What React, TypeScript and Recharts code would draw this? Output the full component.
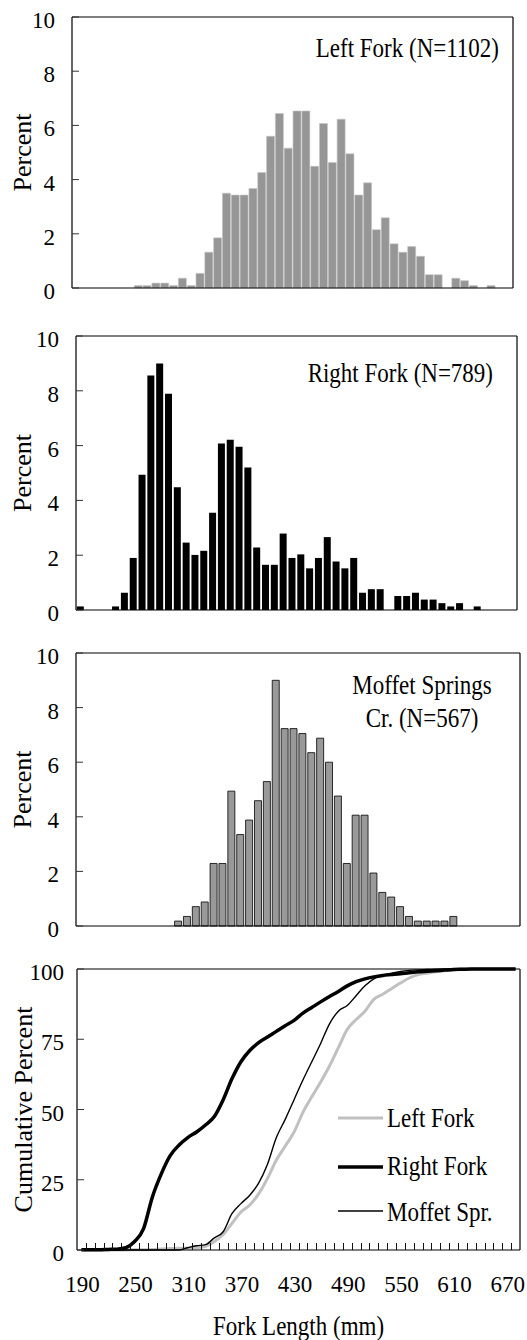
import React from 'react';
import { BarChart, Bar, XAxis, YAxis, ReferenceLine, LineChart, Line, Label } from 'recharts';

const FONT = '"Liberation Serif", "Times New Roman", serif';

// Fork length categories (mm), 10 mm bins
const forkLengths = [
  190, 200, 210, 220, 230, 240, 250, 260, 270, 280,
  290, 300, 310, 320, 330, 340, 350, 360, 370, 380,
  390, 400, 410, 420, 430, 440, 450, 460, 470, 480,
  490, 500, 510, 520, 530, 540, 550, 560, 570, 580,
  590, 600, 610, 620, 630, 640, 650, 660, 670, 680,
];

// Histogram percents
const leftForkPct = [
  0, 0, 0, 0, 0, 0, 0, 0.09, 0.09, 0.18,
  0.18, 0.09, 0.36, 0.09, 0.54, 1.32, 1.85, 3.5, 3.43, 3.43,
  3.67, 4.26, 5.6, 6.44, 5.16, 6.53, 6.53, 4.49, 6.07, 4.63,
  6.23, 4.95, 3.43, 3.88, 2.15, 2.59, 1.63, 1.32, 1.53, 1.17,
  0.49, 0.49, 0, 0.36, 0.27, 0.09, 0, 0.09, 0, 0,
];
const rightForkPct = [
  0.13, 0, 0, 0, 0.13, 0.63, 1.9, 4.94, 8.56, 9.0,
  7.89, 4.48, 2.46, 2.01, 2.16, 3.55, 6.08, 6.21, 5.96, 5.2,
  2.28, 1.65, 1.65, 2.79, 1.9, 2.03, 1.52, 1.9, 2.66, 1.77,
  1.52, 1.9, 0.63, 0.76, 0.76, 0, 0.51, 0.51, 0.63, 0.38,
  0.38, 0.25, 0.13, 0.25, 0, 0.13, 0, 0, 0, 0,
];
const moffetPct = [
  0, 0, 0, 0, 0, 0, 0, 0, 0, 0,
  0, 0.18, 0.35, 0.71, 0.88, 2.29, 2.29, 4.94, 3.35, 3.88,
  4.59, 5.29, 9.0, 7.23, 7.23, 7.05, 6.35, 6.88, 6.0, 4.76,
  2.29, 4.06, 4.06, 1.94, 1.23, 1.06, 0.71, 0.35, 0.18, 0.18,
  0.18, 0.18, 0.35, 0, 0, 0, 0, 0, 0, 0,
];

// Cumulative percents
const cumLeft = [
  0, 0, 0, 0, 0, 0, 0.1, 0.1, 0.2, 0.4,
  0.5, 0.6, 0.7, 0.8, 1.3, 3, 5.5, 9.5, 13.5, 16,
  20, 25.5, 32, 37, 42, 49, 54.5, 59.8, 65.5, 72,
  78.5, 82, 85, 89.2, 91, 93, 95, 96.8, 98, 98.5,
  99, 99.4, 99.7, 100, 100, 100, 100, 100, 100, 100,
];
const cumRight = [
  0.1, 0.1, 0.1, 0.2, 0.3, 0.8, 3, 7.5, 18.8, 27,
  33.5, 37.3, 40, 42, 44.5, 47.5, 53.5, 61, 67, 71,
  73.8, 75.8, 77.8, 79.8, 81.7, 84.3, 86.3, 88.3, 90.2, 92,
  94, 95.5, 96.5, 97.2, 97.7, 98, 98.3, 98.7, 99, 99.2,
  99.4, 99.6, 99.8, 99.9, 100, 100, 100, 100, 100, 100,
];
const cumMoffet = [
  0, 0, 0, 0, 0, 0, 0, 0, 0, 0,
  0, 0, 0.8, 1.5, 1.9, 4.3, 6.5, 13, 16.5, 19.5,
  23.8, 30.5, 40, 46.5, 53.5, 60.5, 67, 73.5, 80.5, 85,
  87, 90.5, 94, 96.5, 97.8, 98.5, 99.1, 99.5, 99.7, 99.8,
  99.9, 100, 100, 100, 100, 100, 100, 100, 100, 100,
];

const histTicks = [0, 2, 4, 6, 8, 10];
const cumTicks = [0, 25, 50, 75, 100];
const xLabelTicks = [190, 250, 310, 370, 430, 490, 550, 610, 670];
const xMinorTicks = forkLengths.slice(0, forkLengths.length - 1).map((v) => v + 5);
const xAllTicks = [...xLabelTicks, ...xMinorTicks].sort((a, b) => a - b);

const seriesNames = ['Left Fork', 'Right Fork', 'Moffet Spr.'];
const seriesColors = ['#c0c0c0', '#000000', '#000000'];
const seriesWidths = [3, 3.5, 1.4];

const histData = forkLengths.map((len, i) => ({
  len,
  left: leftForkPct[i],
  right: rightForkPct[i],
  moffet: moffetPct[i],
}));
const cumData = forkLengths.map((len, i) => ({
  len,
  left: cumLeft[i],
  right: cumRight[i],
  moffet: cumMoffet[i],
}));

const STRETCH = 1.2;
const TICK_FS = 23;

const SText = ({ x, y, anchor, children }: { x: number; y: number; anchor: string; children: React.ReactNode }) => (
  <text
    transform={`translate(${x},${y}) scale(1,${STRETCH})`}
    textAnchor={anchor as any}
    fontFamily={FONT}
    fontSize={23}
    fill="#000"
  >
    {children}
  </text>
);

const makeYTick = (gap: number) => (props: any) => {
  const { x, y, payload } = props;
  return (
    <g>
      <line x1={x + gap} x2={x + gap + 7} y1={y} y2={y} stroke="#333" strokeWidth={1} />
      <text x={x} y={y + 11} textAnchor="end" fontFamily={FONT} fontSize={TICK_FS} fill="#000">
        {payload.value}
      </text>
    </g>
  );
};

const XTick = (props: any) => {
  const { x, y, payload } = props;
  const v = payload.value;
  if (xLabelTicks.includes(v)) {
    return (
      <text x={x + 1} y={y + 42} textAnchor="middle" fontFamily={FONT} fontSize={TICK_FS} fill="#000">
        {v}
      </text>
    );
  }
  const xr = Math.round(x) + 0.5;
  return <line x1={xr} x2={xr} y1={y} y2={y - 7} stroke="#111" strokeWidth={1} />;
};

type HistProps = {
  top: number;
  dataKey: string;
  fill: string;
  stroke: string;
  strokeWidth: number;
  gap: string;
  marginTop: number;
  xAxisH: number;
  yAxisW: number;
  marginRight: number;
};

const CHART_H = 320;

function HistPanel(p: HistProps) {
  return (
    <div style={{ position: 'absolute', left: 0, top: p.top, width: 527, height: CHART_H }}>
      <BarChart
        width={527}
        height={CHART_H}
        data={histData}
        margin={{ top: p.marginTop, right: p.marginRight, bottom: 0, left: 0 }}
        barCategoryGap={p.gap}
      >
        <XAxis
          dataKey="len"
          height={p.xAxisH}
          tick={false}
          tickLine={false}
          axisLine={{ stroke: '#000', strokeWidth: 1.2 }}
          interval={0}
        />
        <YAxis
          width={p.yAxisW}
          domain={[0, 10]}
          ticks={histTicks}
          interval={0}
          tickSize={0}
          tickMargin={17}
          tickLine={false}
          axisLine={{ stroke: '#000', strokeWidth: 1.2 }}
          tick={makeYTick(17)}
        >
          <Label
            value="Percent"
            angle={-90}
            position="insideLeft"
            offset={22}
            style={{ textAnchor: 'middle', fontFamily: FONT, fontSize: 26, fill: '#000' }}
          />
        </YAxis>
        <YAxis
          yAxisId="r"
          orientation="right"
          width={1}
          domain={[0, 10]}
          tick={false}
          tickLine={false}
          axisLine={{ stroke: '#000', strokeWidth: 1.2 }}
        />
        <ReferenceLine y={10} stroke="#000" strokeWidth={1.2} />
        <Bar
          dataKey={p.dataKey}
          fill={p.fill}
          stroke={p.stroke}
          strokeWidth={p.strokeWidth}
          isAnimationActive={false}
        />
      </BarChart>
    </div>
  );
}

export default function App() {
  const keys = ['left', 'right', 'moffet'];
  return (
    <div style={{ position: 'absolute', left: 0, top: 0, width: 527, height: 1340, background: '#fff' }}>
      {/* plot bottoms: 288, 610, 926 */}
      <HistPanel top={0} dataKey="left" fill="#969696" stroke="#c4c4c4" strokeWidth={0.6} gap="6%"
        marginTop={17} xAxisH={CHART_H - 288} yAxisW={72} marginRight={13} />
      <HistPanel top={320} dataKey="right" fill="#000000" stroke="none" strokeWidth={0} gap="9%"
        marginTop={16} xAxisH={CHART_H - 290} yAxisW={76} marginRight={9} />
      <HistPanel top={640} dataKey="moffet" fill="#999999" stroke="#000" strokeWidth={0.8} gap="10%"
        marginTop={13} xAxisH={CHART_H - 286} yAxisW={76} marginRight={6} />

      <div style={{ position: 'absolute', left: 0, top: 960, width: 527, height: 380 }}>
        <LineChart width={527} height={380} data={cumData} margin={{ top: 9, right: 6, bottom: 0, left: 0 }}>
          <XAxis
            type="number"
            dataKey="len"
            domain={[185, 685]}
            ticks={xAllTicks}
            interval={0}
            height={90}
            tickSize={0}
            tickMargin={0}
            tickLine={false}
            axisLine={{ stroke: '#000', strokeWidth: 1.2 }}
            tick={XTick}
          >
            <Label
              value="Fork Length (mm)"
              position="insideBottom"
              content={(lp: any) => {
                const vb = lp.viewBox || {};
                return (
                  <SText x={vb.x + vb.width / 2} y={vb.y + vb.height - 5} anchor="middle">
                    Fork Length (mm)
                  </SText>
                );
              }}
            />
          </XAxis>
          <YAxis
            width={77}
            domain={[0, 100]}
            ticks={cumTicks}
            interval={0}
            tickSize={0}
            tickMargin={13}
            tickLine={false}
            axisLine={{ stroke: '#000', strokeWidth: 1.2 }}
            tick={makeYTick(13)}
          >
            <Label
              value="Cumulative Percent"
              angle={-90}
              position="insideLeft"
              offset={23}
              style={{ textAnchor: 'middle', fontFamily: FONT, fontSize: 26, fill: '#000' }}
            />
          </YAxis>
          <YAxis
            yAxisId="r"
            orientation="right"
            width={1}
            domain={[0, 100]}
            tick={false}
            tickLine={false}
            axisLine={{ stroke: '#000', strokeWidth: 1.2 }}
          />
          <ReferenceLine y={100} stroke="#000" strokeWidth={1.2} />
          {keys.map((k, i) => (
            <Line
              key={k}
              type="monotone"
              dataKey={k}
              name={seriesNames[i]}
              stroke={seriesColors[i]}
              strokeWidth={seriesWidths[i]}
              dot={false}
              isAnimationActive={false}
            />
          ))}
        </LineChart>
      </div>

      <svg width={527} height={1340} style={{ position: 'absolute', left: 0, top: 0, pointerEvents: 'none' }}>
        <SText x={499} y={57} anchor="end">Left Fork (N=1102)</SText>
        <SText x={493} y={382} anchor="end">Right Fork (N=789)</SText>
        <SText x={422} y={694} anchor="middle">Moffet Springs</SText>
        <SText x={422} y={727} anchor="middle">Cr. (N=567)</SText>
        {seriesNames.map((name, i) => {
          const cy = [1118, 1167, 1211][i];
          const by = [1127, 1175, 1221][i];
          return (
            <g key={name}>
              <line x1={338} x2={383} y1={cy} y2={cy} stroke={seriesColors[i]} strokeWidth={seriesWidths[i]} />
              <SText x={387} y={by} anchor="start">{name}</SText>
            </g>
          );
        })}
      </svg>
    </div>
  );
}
